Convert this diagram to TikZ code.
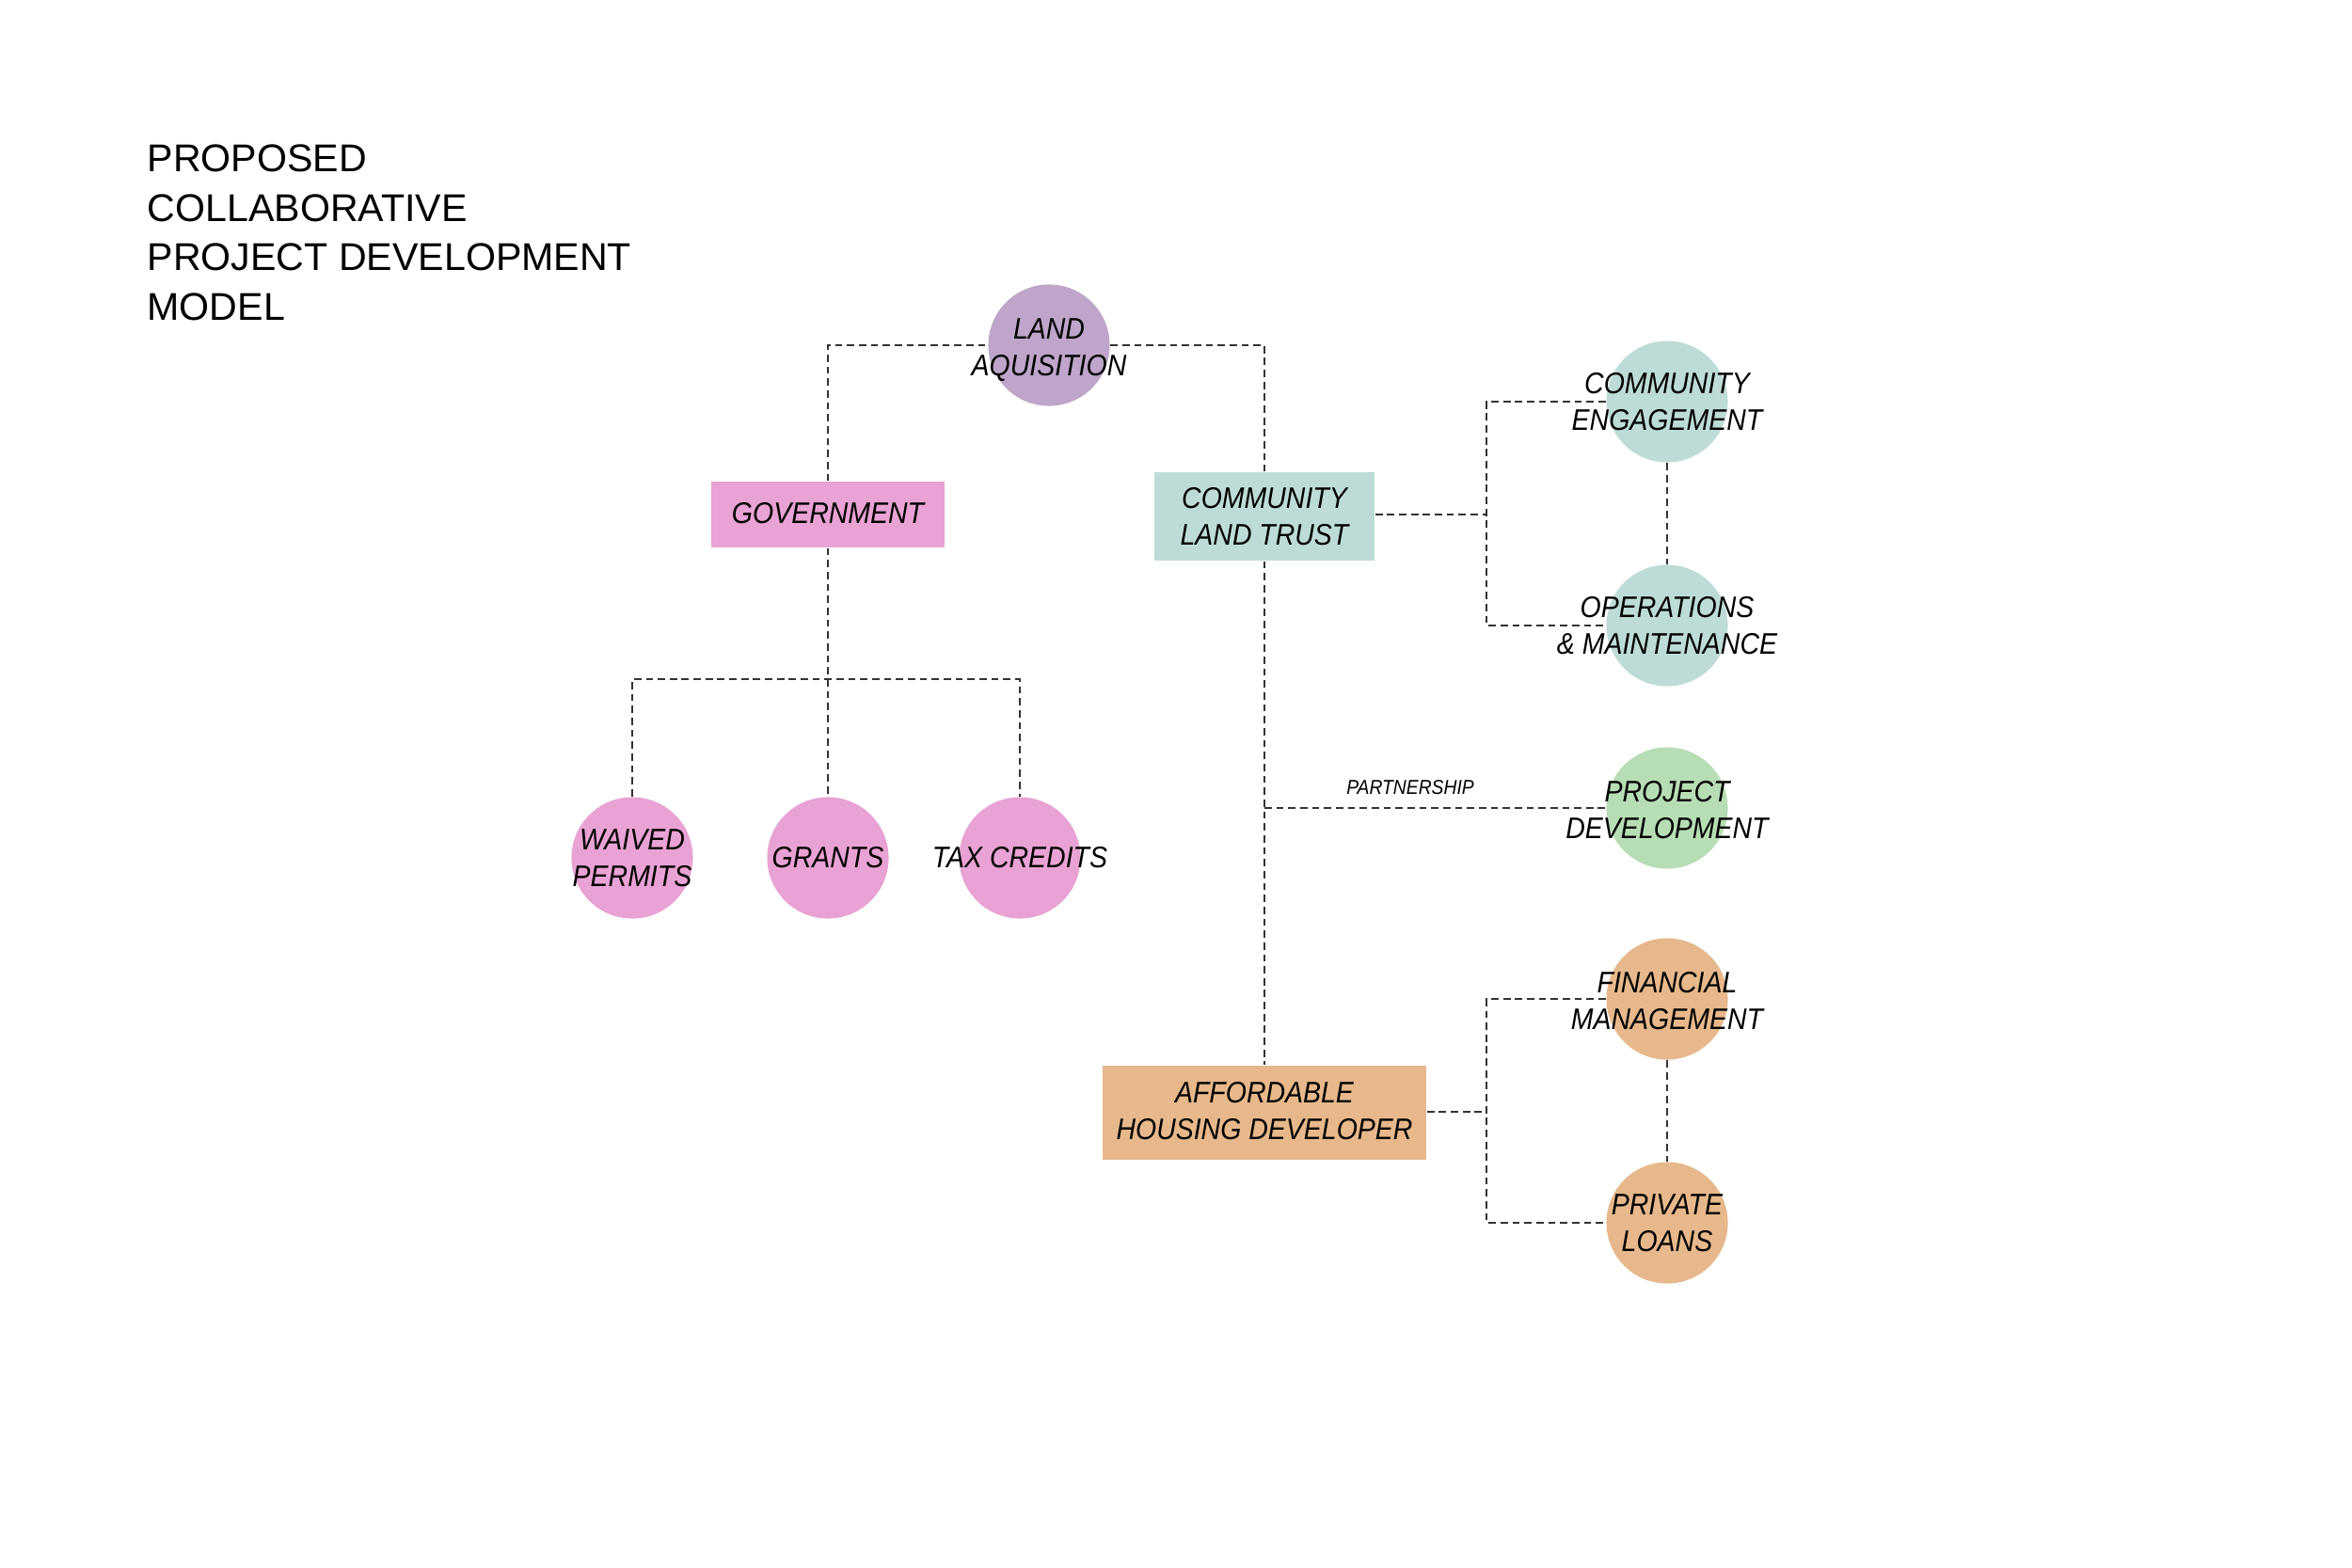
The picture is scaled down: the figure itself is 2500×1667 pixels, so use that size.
\documentclass[tikz,border=0pt]{standalone}
\usepackage{fontspec}
\setmainfont{Liberation Sans}
\newfontfamily\nodefont{Liberation Sans}[FakeStretch=0.9]
\usetikzlibrary{backgrounds}
\definecolor{lavender}{HTML}{BEA5C9}
\definecolor{pinkc}{HTML}{E8A2D3}
\definecolor{tealc}{HTML}{BEDCD7}
\definecolor{greenc}{HTML}{B7DDB5}
\definecolor{orangec}{HTML}{E7B88B}
\definecolor{linec}{HTML}{333333}
\begin{document}
\begin{tikzpicture}[x=0.01cm,y=-0.01cm,
  blob/.style={circle, minimum size=1.29cm, inner sep=0pt, draw=none},
  boxnode/.style={rectangle, inner sep=0pt, align=center,
    font={\nodefont\itshape\fontsize{9pt}{11pt}\selectfont}},
  lbl/.style={inner sep=0pt, align=center,
    font={\nodefont\itshape\fontsize{9pt}{11pt}\selectfont}},
  smalllbl/.style={inner sep=0pt, font={\nodefont\itshape\fontsize{6.1pt}{7pt}\selectfont}},
  conn/.style={draw=linec, line width=0.55pt, dash pattern=on 2.2pt off 1.4pt}]
\useasboundingbox (0,0) rectangle (2500,1667);

% title
\node[anchor=north west, inner sep=0pt, align=left,
  font={\fontsize{11.7pt}{15pt}\selectfont}] (title) at (156,153)
  {PROPOSED\\COLLABORATIVE\\PROJECT DEVELOPMENT\\MODEL};

% circles
\node[blob, fill=lavender] (la) at (1115,367) {};
\node[blob, fill=pinkc] (wp) at (672,912) {};
\node[blob, fill=pinkc] (gr) at (880,912) {};
\node[blob, fill=pinkc] (tc) at (1084,912) {};
\node[blob, fill=tealc] (ce) at (1772,427) {};
\node[blob, fill=tealc] (om) at (1772,665) {};
\node[blob, fill=greenc] (pd) at (1772,859) {};
\node[blob, fill=orangec] (fm) at (1772,1062) {};
\node[blob, fill=orangec] (pl) at (1772,1300) {};

% boxes
\node[boxnode, fill=pinkc, minimum width=2.47cm, minimum height=0.70cm] (gov) at (880,547) {\raisebox{1pt}{GOVERNMENT}};
\node[boxnode, fill=tealc, minimum width=2.34cm, minimum height=0.94cm] (clt) at (1344,549) {COMMUNITY\\LAND TRUST};
\node[boxnode, fill=orangec, minimum width=3.44cm, minimum height=1.00cm] (ahd) at (1344,1183) {\raisebox{1.2pt}{AFFORDABLE}\\\raisebox{1.2pt}{HOUSING DEVELOPER}};

% circle texts
\node[lbl, yshift=-0.05cm] (lat) at (la) {LAND\\AQUISITION};
\node[lbl] (wpt) at (wp) {WAIVED\\PERMITS};
\node[lbl] (grt) at (gr) {GRANTS};
\node[lbl] (tct) at (tc) {TAX CREDITS};
\node[lbl] (cet) at (ce) {COMMUNITY\\ENGAGEMENT};
\node[lbl] (omt) at (om) {OPERATIONS\\\& MAINTENANCE};
\node[lbl, yshift=-0.02cm] (pdt) at (pd) {PROJECT\\DEVELOPMENT};
\node[lbl, yshift=-0.02cm] (fmt) at (fm) {FINANCIAL\\MANAGEMENT};
\node[lbl] (plt) at (pl) {PRIVATE\\LOANS};

\node[smalllbl] (part) at (1499,837) {PARTNERSHIP};

% junctions
\coordinate (gj) at (880,722);
\coordinate (pj) at (1344,859);
\coordinate (cj) at (1580,547);
\coordinate (aj) at (1580,1182);

\begin{pgfonlayer}{background}
\fill[white] (0,0) rectangle (2500,1667);
\draw[conn] (gov.north) |- (la.west);
\draw[conn] (la.east) -| (clt.north);
\draw[conn] (gov.south) -- (gr.north);
\draw[conn] (wp.north) |- (gj) -| (tc.north);
\draw[conn] (clt.south) -- (ahd.north);
\draw[conn] (pj) -- (pd.west);
\draw[conn] (clt.east |- cj) -- (cj);
\draw[conn] (ce.west) -| (cj) |- (om.west);
\draw[conn] (ce.south) -- (om.north);
\draw[conn] (ahd.east |- aj) -- (aj);
\draw[conn] (fm.west) -| (aj) |- (pl.west);
\draw[conn] (fm.south) -- (pl.north);
\end{pgfonlayer}
\end{tikzpicture}
\end{document}
